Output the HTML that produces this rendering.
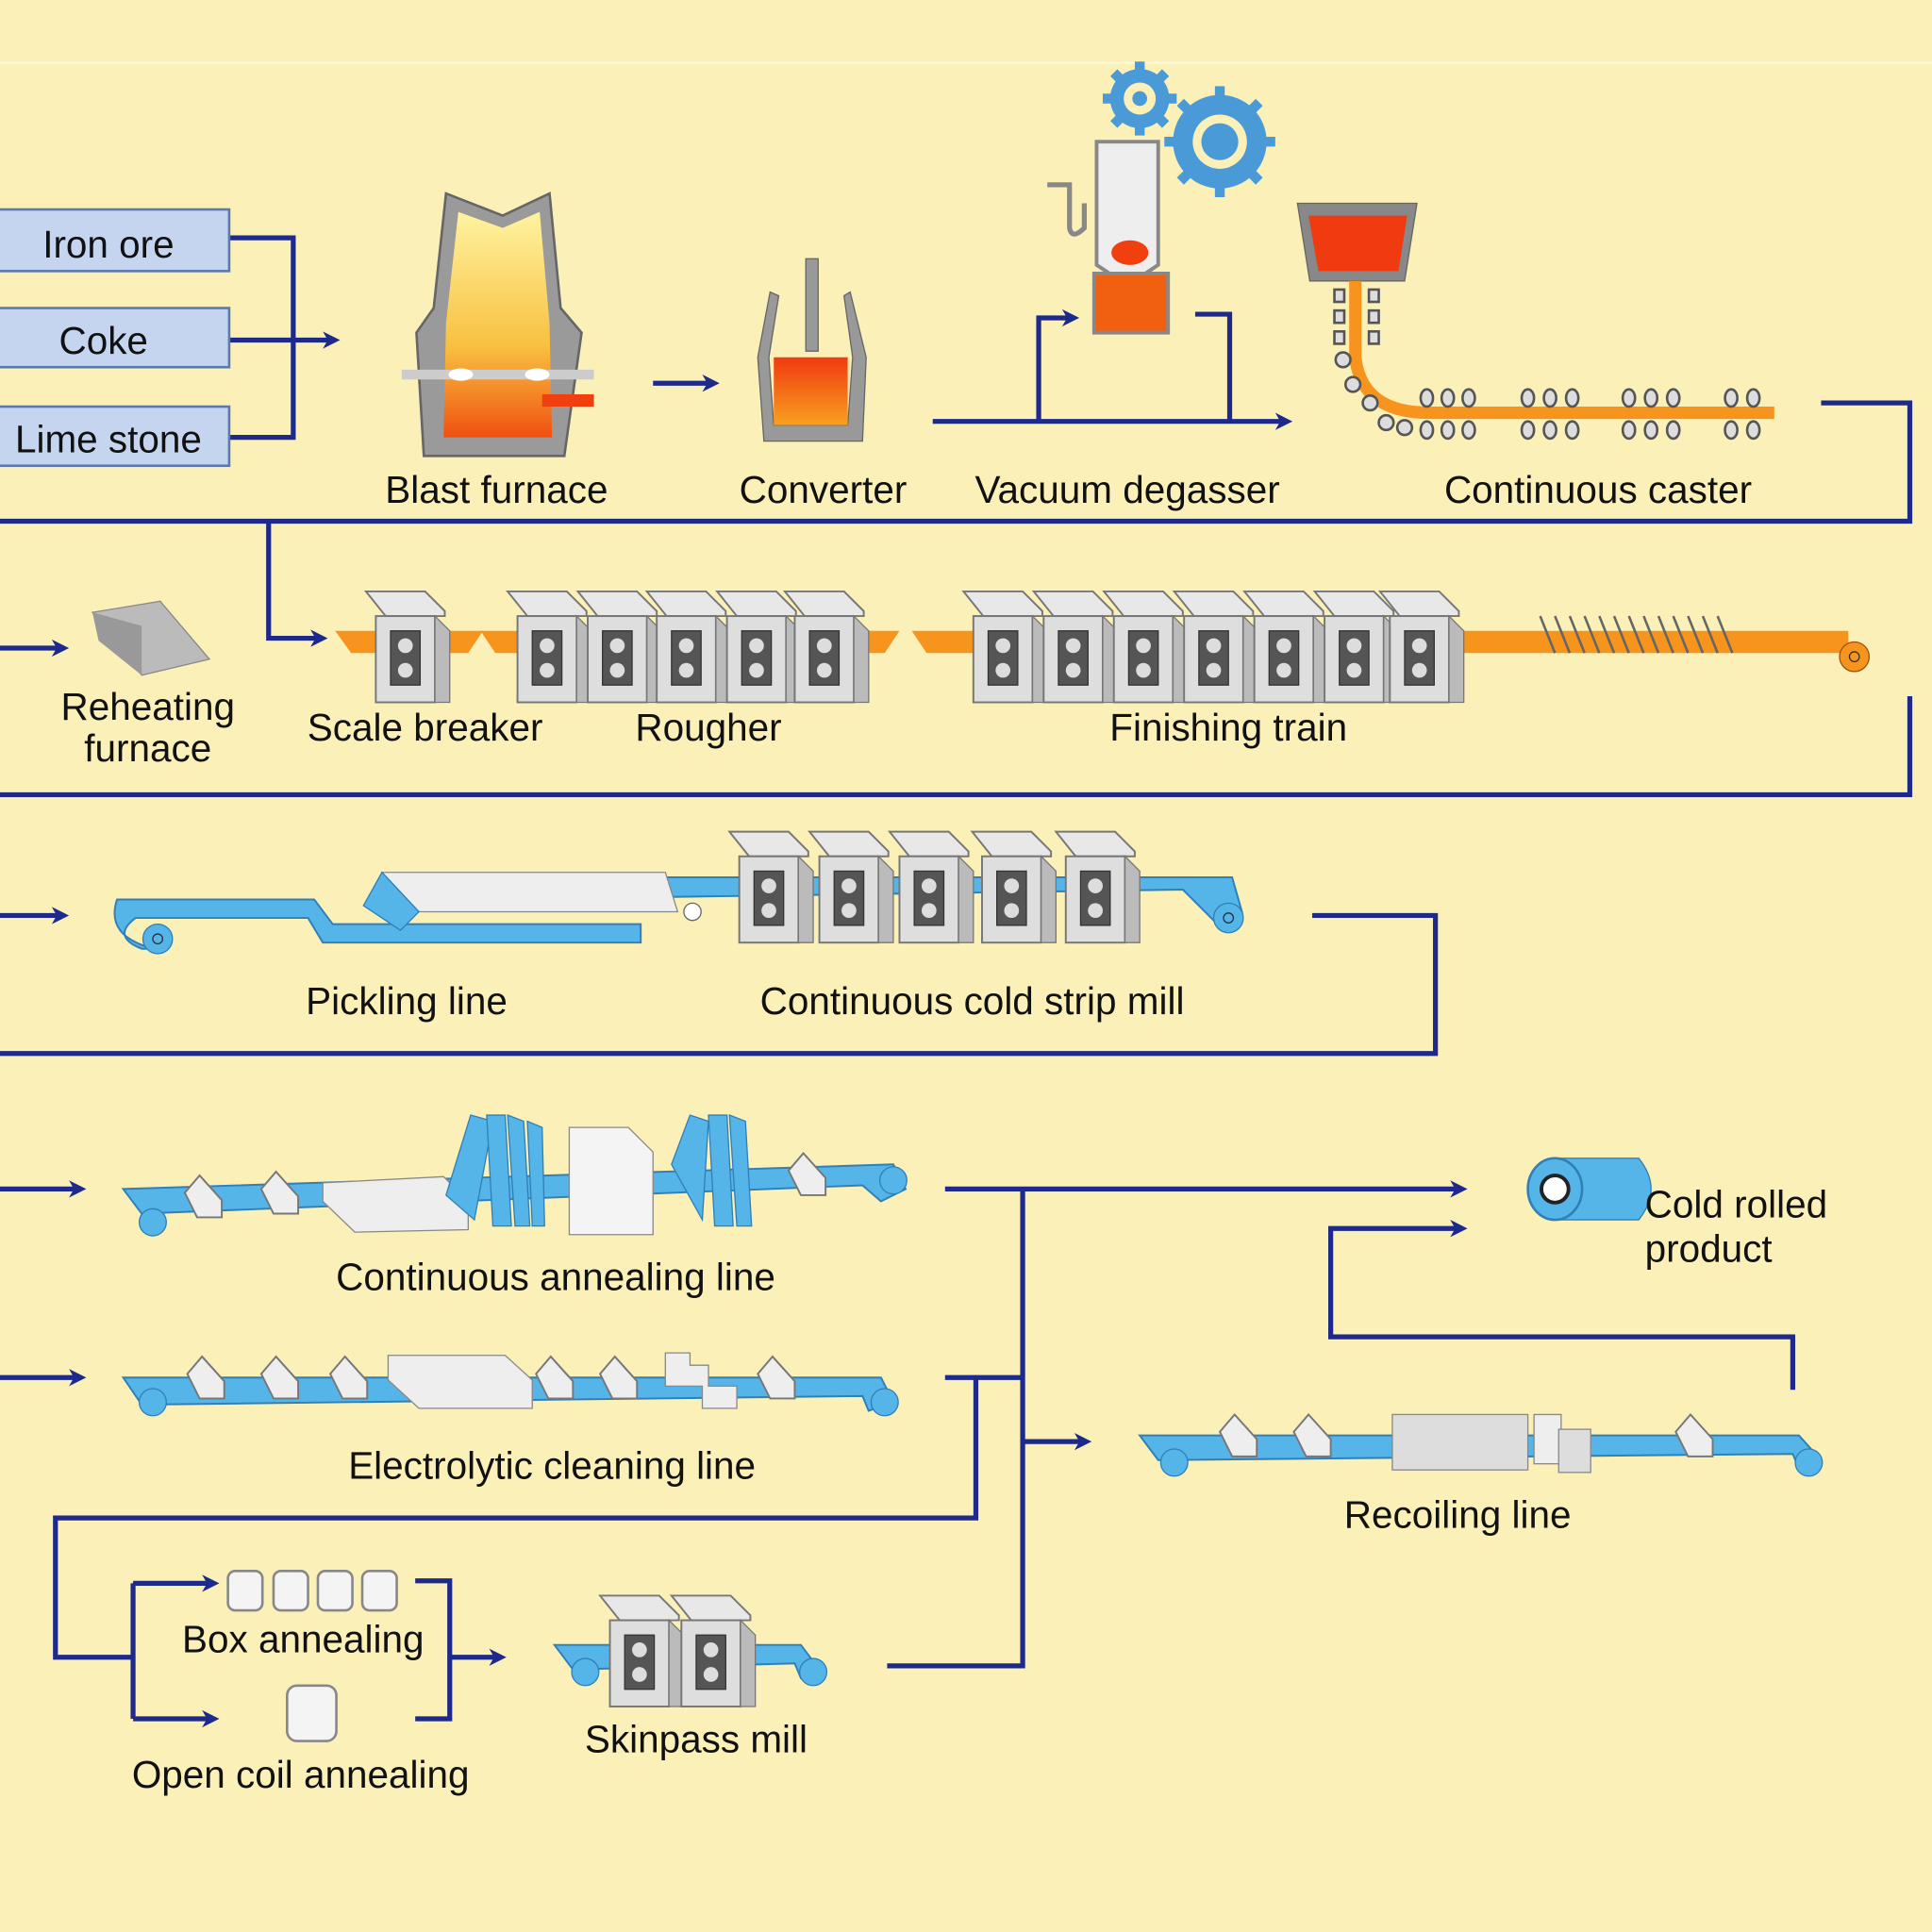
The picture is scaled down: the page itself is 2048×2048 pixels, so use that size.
<!DOCTYPE html>
<html><head><meta charset="utf-8"><style>
html,body{margin:0;padding:0;background:#FBF0B8}
svg{display:block}
text{font-family:"Liberation Sans","DejaVu Sans",sans-serif;fill:#111;font-size:31px}
</style></head><body>
<svg width="2048" height="2048" viewBox="0 0 1568 1568" xmlns="http://www.w3.org/2000/svg">
<defs>
<marker id="ah" markerWidth="16" markerHeight="16" refX="11" refY="8" orient="auto" markerUnits="userSpaceOnUse" viewBox="0 0 16 16"><path d="M1,1 L15,8 L1,15 L5,8 Z" fill="#1d2a8c"/></marker>
<g id="mill">
<path d="M-8,-20 L40,-20 L56,-4 L56,0 L8,0 Z" fill="#e8e8e8" stroke="#777" stroke-width="1.5"/>
<rect x="0" y="0" width="48" height="70" fill="#dedede" stroke="#777" stroke-width="1.5"/>
<rect x="12" y="12" width="24" height="44" fill="#555" stroke="#333"/>
<circle cx="24" cy="24" r="6" fill="#ddd"/><circle cx="24" cy="44" r="6" fill="#ddd"/>
<path d="M48,0 L60,12 L60,70 L48,70 Z" fill="#bbb" stroke="#777"/>
</g>
<g id="roller"><path d="M0,0 L12,-14 L30,6 L30,20 L10,20 Z" fill="#eee" stroke="#777" stroke-width="1.5"/></g>
<g id="rp" fill="#ddd" stroke="#555" stroke-width="2"><ellipse cx="0" cy="-12" rx="5" ry="7"/><ellipse cx="0" cy="14" rx="5" ry="7"/></g>
<linearGradient id="bf" x1="0" y1="0" x2="0" y2="1"><stop offset="0" stop-color="#fff3a0"/><stop offset="0.6" stop-color="#f8c040"/><stop offset="1" stop-color="#f05010"/></linearGradient>
<linearGradient id="molten" x1="0" y1="0" x2="0" y2="1"><stop offset="0" stop-color="#f03a10"/><stop offset="1" stop-color="#f8a020"/></linearGradient>
</defs>
<rect width="1568" height="1568" fill="#FBF0B8"/>
<rect x="0" y="50" width="1568" height="2" fill="#fdf6d8"/>

<g fill="none" stroke="#1d2a8c" stroke-width="4">
<path d="M186,193 H238 V355 H186"/>
<path d="M186,276 H272" marker-end="url(#ah)"/>
<path d="M530,311 H580" marker-end="url(#ah)"/>
<path d="M757,342 H1045" marker-end="url(#ah)"/>
<path d="M843,342 V258 H872" marker-end="url(#ah)"/>
<path d="M970,255 H998 V342"/>
<path d="M1478,327 H1550 V423 H0"/>
<path d="M218,423 V518 H262" marker-end="url(#ah)"/>
<path d="M0,526 H52" marker-end="url(#ah)"/>
<path d="M1550,565 V645 H0"/>
<path d="M0,743 H52" marker-end="url(#ah)"/>
<path d="M1065,743 H1165 V855 H0"/>
<path d="M0,965 H66" marker-end="url(#ah)"/>
<path d="M0,1118 H66" marker-end="url(#ah)"/>
<path d="M767,965 H1187" marker-end="url(#ah)"/>
<path d="M830,965 V1352 H720"/>
<path d="M830,1170 H882" marker-end="url(#ah)"/>
<path d="M767,1118 H830"/>
<path d="M792,1118 V1232 H45 V1345 H108"/>
<path d="M108,1285 V1395"/>
<path d="M108,1285 H174" marker-end="url(#ah)"/>
<path d="M108,1395 H174" marker-end="url(#ah)"/>
<path d="M337,1283 H365 V1395 H337"/>
<path d="M365,1345 H407" marker-end="url(#ah)"/>
<path d="M1455,1128 V1085 H1080 V997 H1187" marker-end="url(#ah)"/>
</g>

<g stroke="#5a7ab0" stroke-width="2" fill="#c5d5f0">
<rect x="-2" y="170" width="188" height="50"/>
<rect x="-2" y="250" width="188" height="48"/>
<rect x="-2" y="330" width="188" height="48"/>
</g>
<text x="88" y="209" text-anchor="middle">Iron ore</text>
<text x="84" y="287" text-anchor="middle">Coke</text>
<text x="88" y="367" text-anchor="middle">Lime stone</text>

<path d="M362,157 L408,175 L446,157 L455,250 L472,270 L458,370 L344,370 L338,270 L352,250 Z" fill="#9a9a9a" stroke="#666" stroke-width="2"/>
<path d="M372,172 L408,185 L438,172 L446,262 L448,355 L360,355 L362,262 Z" fill="url(#bf)"/>
<rect x="326" y="300" width="156" height="8" fill="#ccc"/>
<ellipse cx="374" cy="304" rx="10" ry="5" fill="#fff"/><ellipse cx="436" cy="304" rx="10" ry="5" fill="#fff"/>
<rect x="440" y="320" width="42" height="10" fill="#f04010"/>
<text x="403" y="408" text-anchor="middle">Blast furnace</text>

<path d="M625,237 L615,290 L620,358 L700,358 L703,290 L690,237 L685,240 L692,290 L688,345 L628,345 L624,290 L632,240 Z" fill="#999" stroke="#666"/>
<rect x="654" y="210" width="10" height="75" fill="#999" stroke="#666"/>
<path d="M628,290 L688,290 L688,345 L628,345 Z" fill="url(#molten)"/>
<text x="668" y="408" text-anchor="middle">Converter</text>

<path d="M850,150 H868 V185 Q870,195 880,185 V165" fill="none" stroke="#888" stroke-width="4"/>
<path d="M890,115 H940 V215 L925,225 H905 L890,215 Z" fill="#eee" stroke="#888" stroke-width="3"/>
<ellipse cx="917" cy="205" rx="15" ry="10" fill="#f04010"/>
<rect x="888" y="222" width="60" height="48" fill="#f06010" stroke="#888" stroke-width="3"/>
<g fill="#4a9ad8">
<circle cx="925" cy="80" r="24"/><circle cx="990" cy="115" r="38"/>
<g stroke="#4a9ad8" stroke-width="8"><path d="M925,50 V110 M895,80 H955 M904,59 L946,101 M946,59 L904,101"/><path d="M990,70 V160 M945,115 H1035 M958,83 L1022,147 M1022,83 L958,147"/></g>
</g>
<circle cx="925" cy="80" r="13" fill="#FBF0B8"/><circle cx="925" cy="80" r="6" fill="#4a9ad8"/>
<circle cx="990" cy="115" r="22" fill="#FBF0B8"/><circle cx="990" cy="115" r="15" fill="#4a9ad8"/>
<text x="915" y="408" text-anchor="middle">Vacuum degasser</text>

<path d="M1053,165 L1150,165 L1140,228 L1063,228 Z" fill="#888" stroke="#666"/>
<path d="M1062,175 L1142,175 L1135,220 L1070,220 Z" fill="#f03a10"/>
<path d="M1100,228 V290 Q1105,335 1160,335 H1440" fill="none" stroke="#f7941d" stroke-width="10"/>
<g fill="#ddd" stroke="#555" stroke-width="2">
<rect x="1083" y="235" width="8" height="10"/><rect x="1083" y="252" width="8" height="10"/><rect x="1083" y="269" width="8" height="10"/><rect x="1111" y="235" width="8" height="10"/><rect x="1111" y="252" width="8" height="10"/><rect x="1111" y="269" width="8" height="10"/>
<circle cx="1090" cy="292" r="6"/><circle cx="1098" cy="312" r="6"/><circle cx="1112" cy="327" r="6"/><circle cx="1125" cy="343" r="6"/><circle cx="1140" cy="347" r="6"/>
</g>
<use href="#rp" x="1158" y="335"/><use href="#rp" x="1175" y="335"/><use href="#rp" x="1192" y="335"/>
<use href="#rp" x="1240" y="335"/><use href="#rp" x="1258" y="335"/><use href="#rp" x="1276" y="335"/>
<use href="#rp" x="1322" y="335"/><use href="#rp" x="1340" y="335"/><use href="#rp" x="1358" y="335"/>
<use href="#rp" x="1405" y="335"/><use href="#rp" x="1423" y="335"/>
<text x="1297" y="408" text-anchor="middle">Continuous caster</text>

<path d="M75,497 L130,488 L170,535 L115,548 Z" fill="#bbb" stroke="#888"/>
<path d="M75,497 L115,508 L115,548 L80,520 Z" fill="#999"/>
<text x="120" y="584" text-anchor="middle">Reheating</text>
<text x="120" y="618" text-anchor="middle">furnace</text>
<path d="M272,512 L392,512 L380,530 L285,530 Z" fill="#f7941d"/>
<path d="M390,512 L730,512 L718,530 L402,530 Z" fill="#f7941d"/>
<path d="M740,512 L1500,512 L1500,530 L752,530 Z" fill="#f7941d"/>
<use href="#mill" x="305" y="500"/>
<use href="#mill" x="420" y="500"/><use href="#mill" x="477" y="500"/><use href="#mill" x="533" y="500"/><use href="#mill" x="590" y="500"/><use href="#mill" x="645" y="500"/>
<use href="#mill" x="790" y="500"/><use href="#mill" x="847" y="500"/><use href="#mill" x="904" y="500"/><use href="#mill" x="961" y="500"/><use href="#mill" x="1018" y="500"/><use href="#mill" x="1075" y="500"/><use href="#mill" x="1128" y="500"/>
<g stroke="#666" stroke-width="2" fill="none"><path d="M1250,500 l12,30 M1262,500 l12,30 M1274,500 l12,30 M1286,500 l12,30 M1298,500 l12,30 M1310,500 l12,30 M1322,500 l12,30 M1334,500 l12,30 M1346,500 l12,30 M1358,500 l12,30 M1370,500 l12,30 M1382,500 l12,30 M1394,500 l12,30"/></g>
<path d="M1450,520 L1500,520" stroke="#f7941d" stroke-width="14"/>
<circle cx="1505" cy="533" r="12" fill="#f7941d" stroke="#a05010"/><circle cx="1505" cy="533" r="4" fill="none" stroke="#333"/>
<text x="345" y="601" text-anchor="middle">Scale breaker</text>
<text x="575" y="601" text-anchor="middle">Rougher</text>
<text x="997" y="601" text-anchor="middle">Finishing train</text>

<g fill="#55b4e8" stroke="#2f7fb8" stroke-width="1.5">
<path d="M95,730 L255,730 L270,750 L520,750 L520,765 L262,765 L250,745 L110,745 Q90,760 115,770 L125,770 Q85,760 95,730 Z"/>
<path d="M540,712 L1000,712 L1008,740 L990,752 L960,722 L540,728 Z"/>
</g>
<circle cx="128" cy="762" r="12" fill="#55b4e8" stroke="#2f7fb8"/><circle cx="128" cy="762" r="4" fill="none" stroke="#234"/>
<circle cx="997" cy="745" r="12" fill="#55b4e8" stroke="#2f7fb8"/><circle cx="997" cy="745" r="4" fill="none" stroke="#234"/>
<path d="M310,708 L540,708 L550,740 L340,740 Z" fill="#eee" stroke="#888"/>
<path d="M295,735 L310,708 L340,740 L325,755 Z" fill="#55b4e8" stroke="#2f7fb8"/>
<circle cx="562" cy="740" r="7" fill="#fff" stroke="#666"/>
<use href="#mill" x="600" y="695"/><use href="#mill" x="665" y="695"/><use href="#mill" x="730" y="695"/><use href="#mill" x="797" y="695"/><use href="#mill" x="865" y="695"/>
<text x="330" y="823" text-anchor="middle">Pickling line</text>
<text x="789" y="823" text-anchor="middle">Continuous cold strip mill</text>

<g fill="#55b4e8" stroke="#2f7fb8" stroke-width="1.5">
<path d="M100,965 L725,945 L735,965 L715,975 L700,962 L115,985 Z"/>
<path d="M100,1118 L715,1118 L725,1138 L705,1145 L700,1133 L115,1140 Z"/>
<path d="M925,1165 L1460,1165 L1478,1185 L1460,1192 L1455,1180 L940,1185 Z"/>
<path d="M450,1335 L650,1335 L665,1355 L650,1362 L645,1350 L465,1355 Z"/>
</g>
<g fill="#55b4e8" stroke="#2f7fb8"><circle cx="124" cy="992" r="11"/><circle cx="725" cy="958" r="11"/><circle cx="124" cy="1138" r="11"/><circle cx="718" cy="1138" r="11"/><circle cx="953" cy="1187" r="11"/><circle cx="1468" cy="1187" r="11"/><circle cx="475" cy="1357" r="11"/><circle cx="660" cy="1357" r="11"/></g>
<use href="#roller" x="150" y="968"/><use href="#roller" x="212" y="965"/><use href="#roller" x="640" y="950"/>
<path d="M262,960 L360,955 L380,975 L380,998 L288,1000 L262,975 Z" fill="#eee" stroke="#888"/>
<g fill="#55b4e8" stroke="#2f7fb8"><path d="M362,970 L382,905 L400,910 L385,990 Z"/><path d="M395,905 L410,905 L415,995 L400,995 Z"/><path d="M412,905 L425,910 L430,995 L418,995 Z"/><path d="M428,910 L440,915 L442,995 L432,995 Z"/>
<path d="M545,945 L560,905 L575,910 L570,990 Z"/><path d="M575,905 L590,905 L595,995 L580,995 Z"/><path d="M592,905 L605,910 L610,995 L598,995 Z"/></g>
<path d="M462,915 L510,915 L530,935 L530,1002 L462,1002 Z" fill="#f4f4f4" stroke="#888"/>
<text x="451" y="1047" text-anchor="middle">Continuous annealing line</text>

<use href="#roller" x="152" y="1115"/><use href="#roller" x="212" y="1115"/><use href="#roller" x="268" y="1115"/><use href="#roller" x="435" y="1115"/><use href="#roller" x="487" y="1115"/><use href="#roller" x="615" y="1115"/>
<path d="M315,1100 L410,1100 L432,1120 L432,1143 L340,1143 L315,1120 Z" fill="#eee" stroke="#888"/>
<path d="M540,1098 H560 V1108 H575 V1125 H598 V1143 H570 V1125 H540 Z" fill="#eee" stroke="#888"/>
<text x="448" y="1200" text-anchor="middle">Electrolytic cleaning line</text>

<g fill="#f4f4f4" stroke="#888" stroke-width="2">
<rect x="185" y="1275" width="28" height="32" rx="6"/><rect x="222" y="1275" width="28" height="32" rx="6"/><rect x="258" y="1275" width="28" height="32" rx="6"/><rect x="294" y="1275" width="28" height="32" rx="6"/>
<rect x="233" y="1368" width="40" height="45" rx="8"/>
</g>
<text x="246" y="1341" text-anchor="middle">Box annealing</text>
<text x="244" y="1451" text-anchor="middle">Open coil annealing</text>

<use href="#mill" x="495" y="1315"/><use href="#mill" x="553" y="1315"/>
<text x="565" y="1422" text-anchor="middle">Skinpass mill</text>

<use href="#roller" x="990" y="1162"/><use href="#roller" x="1050" y="1162"/><use href="#roller" x="1360" y="1162"/>
<rect x="1130" y="1148" width="110" height="45" fill="#ddd" stroke="#888"/>
<rect x="1245" y="1148" width="22" height="40" fill="#eee" stroke="#888"/>
<rect x="1265" y="1160" width="26" height="35" fill="#ddd" stroke="#888"/>
<text x="1183" y="1240" text-anchor="middle">Recoiling line</text>

<path d="M1262,940 H1330 Q1350,965 1330,990 H1262 Z" fill="#55b4e8" stroke="#2f7fb8"/>
<ellipse cx="1262" cy="965" rx="22" ry="25" fill="#55b4e8" stroke="#2f7fb8" stroke-width="2"/>
<circle cx="1262" cy="965" r="11" fill="#fff" stroke="#222" stroke-width="3"/>
<text x="1335" y="988">Cold rolled</text>
<text x="1335" y="1024">product</text>
</svg>
</body></html>
